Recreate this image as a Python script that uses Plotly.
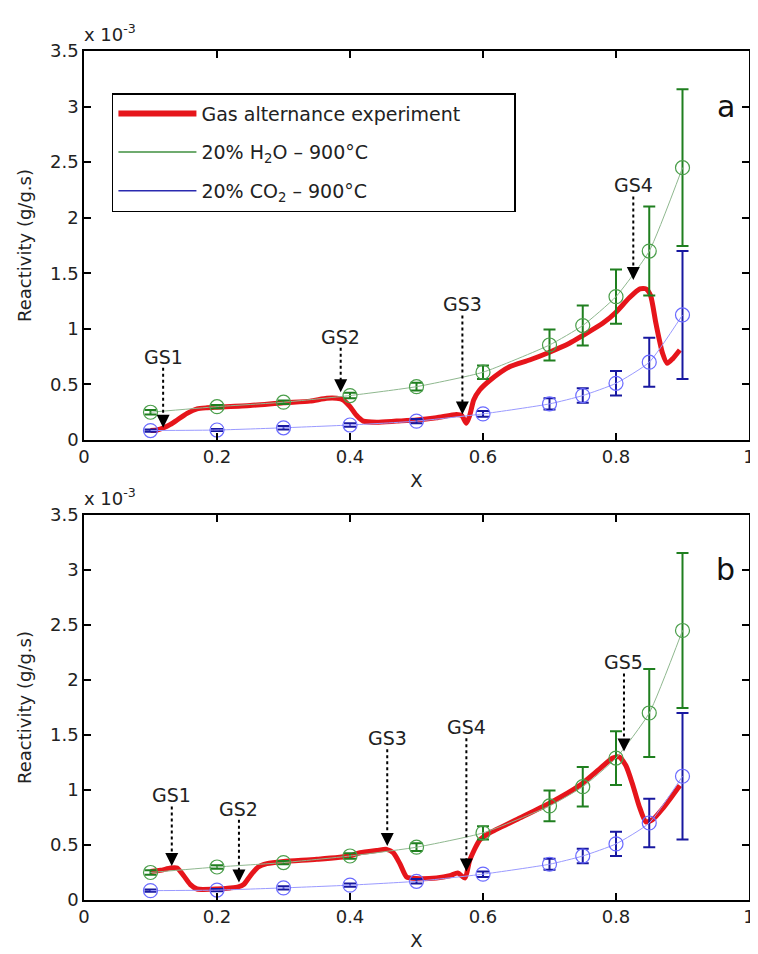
import plotly.graph_objects as go

# ---------------- data (reactivity in units of 1e-3 g/g.s) ----------------
x_pts = [0.1, 0.2, 0.3, 0.4, 0.5, 0.6, 0.7, 0.75, 0.8, 0.85, 0.9]
h2o_y = [0.25, 0.30, 0.34, 0.40, 0.48, 0.61, 0.855, 1.03, 1.29, 1.70, 2.45]
h2o_err = [0.02, 0.015, 0.015, 0.025, 0.035, 0.06, 0.14, 0.18, 0.245, 0.40, 0.705]
co2_y = [0.085, 0.09, 0.11, 0.135, 0.17, 0.235, 0.325, 0.40, 0.51, 0.70, 1.125]
co2_err = [0.01, 0.01, 0.015, 0.015, 0.02, 0.025, 0.05, 0.065, 0.11, 0.22, 0.575]

exp_a_x = [0.100, 0.110, 0.120, 0.130, 0.140, 0.155, 0.170, 0.185, 0.200, 0.250,
           0.300, 0.340, 0.365, 0.380, 0.390, 0.400, 0.410, 0.420, 0.440, 0.470,
           0.500, 0.530, 0.560, 0.568, 0.575, 0.580, 0.586, 0.595, 0.611, 0.640,
           0.670, 0.700, 0.730, 0.750, 0.780, 0.800, 0.820, 0.836, 0.845, 0.852,
           0.860, 0.870, 0.877, 0.885, 0.896]
exp_a_y = [0.085, 0.09, 0.11, 0.14, 0.18, 0.24, 0.28, 0.29, 0.295, 0.31,
           0.335, 0.35, 0.375, 0.375, 0.36, 0.30, 0.22, 0.17, 0.16, 0.17,
           0.18, 0.20, 0.23, 0.22, 0.15, 0.22, 0.36, 0.45, 0.54, 0.66,
           0.72, 0.79, 0.87, 0.94, 1.05, 1.15, 1.28, 1.36, 1.36, 1.30,
           1.05, 0.78, 0.69, 0.73, 0.81]

exp_b_x = [0.100, 0.115, 0.130, 0.140, 0.150, 0.160, 0.170, 0.200, 0.220, 0.232,
           0.240, 0.250, 0.262, 0.275, 0.300, 0.350, 0.400, 0.415, 0.440, 0.455,
           0.465, 0.475, 0.485, 0.500, 0.530, 0.550, 0.562, 0.573, 0.580, 0.595,
           0.610, 0.650, 0.700, 0.745, 0.775, 0.795, 0.805, 0.815, 0.825, 0.835,
           0.845, 0.855, 0.870, 0.885, 0.896]
exp_b_y = [0.26, 0.27, 0.29, 0.29, 0.22, 0.14, 0.10, 0.10, 0.11, 0.12,
           0.14, 0.22, 0.30, 0.33, 0.35, 0.37, 0.40, 0.43, 0.45, 0.46,
           0.43, 0.33, 0.21, 0.195, 0.20, 0.22, 0.245, 0.20, 0.36, 0.545,
           0.61, 0.73, 0.88, 1.04, 1.19, 1.29, 1.30, 1.22, 1.05, 0.85,
           0.71, 0.73, 0.83, 0.95, 1.04]

# gas-switch markers
gs_a_labels = ["GS1", "GS2", "GS3", "GS4"]
gs_a_x = [0.119, 0.386, 0.569, 0.826]
gs_a_text_y = [0.75, 0.93, 1.22, 2.29]
gs_a_tip_y = [0.11, 0.43, 0.23, 1.44]

gs_b_labels = ["GS1", "GS2", "GS3", "GS4", "GS5"]
gs_b_x = [0.132, 0.233, 0.456, 0.575, 0.812]
gs_b_text_y = [0.95, 0.83, 1.47, 1.57, 2.16]
gs_b_tip_y = [0.31, 0.16, 0.49, 0.26, 1.35]

x_ticks = [0, 0.2, 0.4, 0.6, 0.8, 1]
x_ticklabels = ["0", "0.2", "0.4", "0.6", "0.8", "1"]
y_ticks = [0, 0.5, 1, 1.5, 2, 2.5, 3, 3.5]
y_ticklabels = ["0", "0.5", "1", "1.5", "2", "2.5", "3", "3.5"]

panel_labels = ["a", "b"]
series_names = ["Gas alternance experiment",
                "20% H<sub>2</sub>O \u2013 900\u00b0C",
                "20% CO<sub>2</sub> \u2013 900\u00b0C"]

# ---------------- styles ----------------
FONT = "DejaVu Sans"
TXT = "#222222"
RED = "#e6151b"
GREEN_BAR = "#1f7f1f"
GREEN_MK = "#4a9e4a"
GREEN_LN = "#8fb88f"
GREEN_LEG = "#3f8f3f"
BLUE_BAR = "#1818a0"
BLUE_MK = "#6a6aff"
BLUE_LN = "#9a9aff"
BLUE_LEG = "#2a2ab0"
PAD = "\u00a0" * 8

fig = go.Figure()

panels = [
    ("x", "y", exp_a_x, exp_a_y, gs_a_labels, gs_a_x, gs_a_text_y, gs_a_tip_y),
    ("x2", "y2", exp_b_x, exp_b_y, gs_b_labels, gs_b_x, gs_b_text_y, gs_b_tip_y),
]

for xa, ya, ex, ey, labs, gx, gty, gtip in panels:
    fig.add_trace(go.Scatter(
        x=ex, y=ey, xaxis=xa, yaxis=ya, mode="lines",
        line=dict(color=RED, width=5, shape="spline", smoothing=0.6),
        name=series_names[0], showlegend=False, hoverinfo="skip"))
    fig.add_trace(go.Scatter(
        x=x_pts, y=h2o_y, xaxis=xa, yaxis=ya, mode="lines+markers",
        line=dict(color=GREEN_LN, width=1, shape="spline", smoothing=0.5),
        marker=dict(symbol="circle-open", size=14, color=GREEN_MK, line=dict(width=1.2)),
        error_y=dict(type="data", array=h2o_err, color=GREEN_BAR, thickness=2, width=6),
        name=series_names[1], showlegend=False))
    fig.add_trace(go.Scatter(
        x=x_pts, y=co2_y, xaxis=xa, yaxis=ya, mode="lines+markers",
        line=dict(color=BLUE_LN, width=1, shape="spline", smoothing=0.5),
        marker=dict(symbol="circle-open", size=14, color=BLUE_MK, line=dict(width=1.2)),
        error_y=dict(type="data", array=co2_err, color=BLUE_BAR, thickness=2, width=6),
        name=series_names[2], showlegend=False))
    # dotted arrows pointing at each gas switch
    for lab, xx, ty, tip in zip(labs, gx, gty, gtip):
        fig.add_trace(go.Scatter(
            x=[xx, xx], y=[ty - 0.1, tip + 0.05], xaxis=xa, yaxis=ya, mode="lines",
            line=dict(color="black", width=2, dash="dot"),
            showlegend=False, hoverinfo="skip"))
        fig.add_annotation(x=xx, y=tip, xref=xa, yref=ya, text="", showarrow=True,
                           ax=0, ay=-7, arrowhead=2, arrowsize=1.3, arrowwidth=2,
                           arrowcolor="black", standoff=0)
        fig.add_annotation(x=xx, y=ty, xref=xa, yref=ya, text=lab, showarrow=False,
                           font=dict(family=FONT, size=19, color=TXT))

# legend entries (line samples only, as in the original)
for nm, col, w in zip([series_names[0] + PAD, series_names[1], series_names[2]],
                      [RED, GREEN_LEG, BLUE_LEG], [6, 1.5, 1.5]):
    fig.add_trace(go.Scatter(x=[None], y=[None], xaxis="x", yaxis="y", mode="lines",
                             line=dict(color=col, width=w), name=nm, showlegend=True,
                             legendgroup=nm))

for (xa, ya), lab in zip([("x", "y"), ("x2", "y2")], panel_labels):
    fig.add_annotation(x=0.965, y=3.0, xref=xa, yref=ya, text=lab, showarrow=False,
                       font=dict(family=FONT, size=30, color="#111"))
    fig.add_annotation(x=0, y=1, xref=xa + " domain", yref=ya + " domain",
                       text="x 10<sup>-3</sup>", showarrow=False,
                       xanchor="left", yanchor="bottom", yshift=4, xshift=-2,
                       font=dict(family=FONT, size=18, color=TXT))

axis_common = dict(
    showline=True, linecolor="black", linewidth=1.5, mirror="ticks",
    ticks="inside", ticklen=7, tickwidth=1.5, tickcolor="black",
    showgrid=False, zeroline=False, automargin=False,
    tickfont=dict(family=FONT, size=18, color=TXT),
)
xtitle = dict(text="X", standoff=8, font=dict(family=FONT, size=18, color=TXT))
ytitle = dict(text="Reactivity (g/g.s)", standoff=14,
              font=dict(family=FONT, size=18, color=TXT))

# the page body adds an 8 px offset; the figure is sized to fill the rest
fig.update_layout(
    width=750, height=946,
    margin=dict(l=76, r=9, t=43, b=54, autoexpand=False),
    paper_bgcolor="white", plot_bgcolor="white",
    font=dict(family=FONT, size=18, color=TXT),
    xaxis=dict(domain=[0, 1], anchor="y", range=[0, 1], tickvals=x_ticks,
               ticktext=x_ticklabels, title=xtitle, **axis_common),
    yaxis=dict(domain=[0.5418, 1], anchor="x", range=[0, 3.5], tickvals=y_ticks,
               ticktext=y_ticklabels, title=ytitle, **axis_common),
    xaxis2=dict(domain=[0, 1], anchor="y2", range=[0, 1], tickvals=x_ticks,
                ticktext=x_ticklabels, title=xtitle, **axis_common),
    yaxis2=dict(domain=[0, 0.4535], anchor="x2", range=[0, 3.5], tickvals=y_ticks,
                ticktext=y_ticklabels, title=ytitle, **axis_common),
    legend=dict(x=0.042, y=0.9505, xanchor="left", yanchor="top",
                bgcolor="white", bordercolor="black", borderwidth=1.5,
                font=dict(family=FONT, size=19, color=TXT),
                itemwidth=78, tracegroupgap=11, traceorder="grouped"),
    showlegend=True,
)

fig.write_html("out.html")
